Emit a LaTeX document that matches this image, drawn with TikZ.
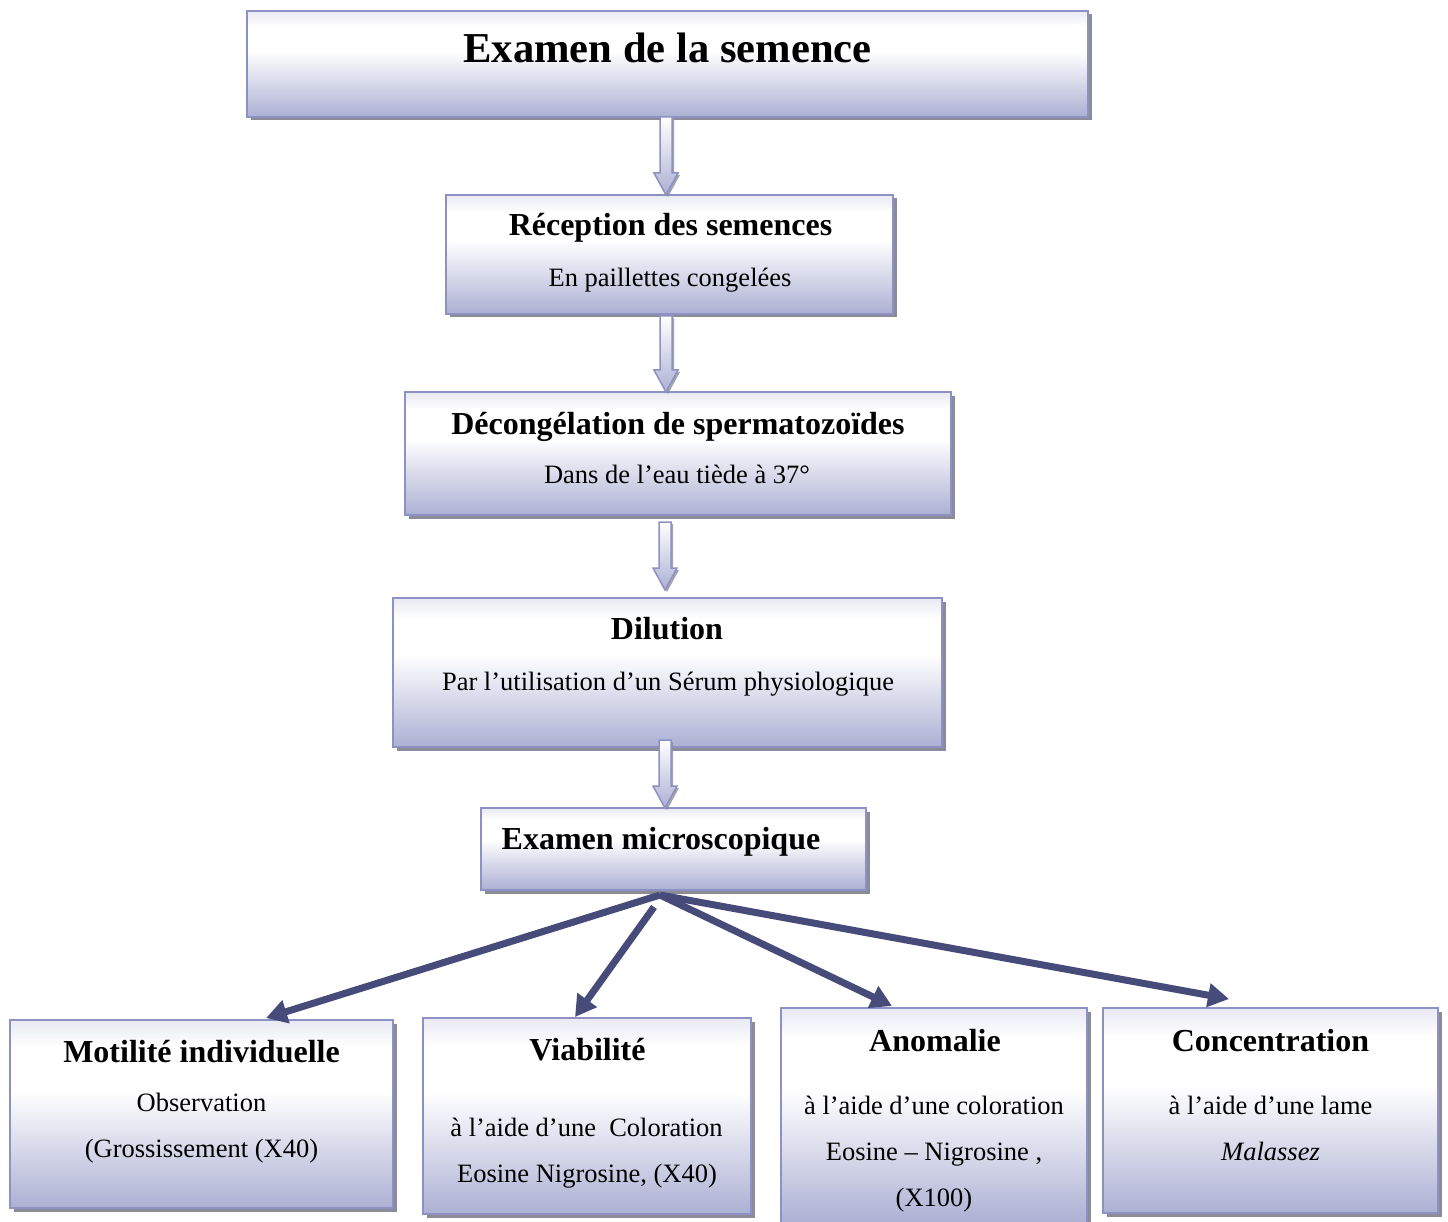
\documentclass[tikz,border=0pt]{standalone}
\usepackage{fontspec}
\setmainfont{Liberation Serif}
\usetikzlibrary{arrows.meta,shadows,calc}
\definecolor{lav}{RGB}{172,176,211}
\definecolor{lavtop}{RGB}{232,233,243}
\definecolor{lavborder}{RGB}{141,145,196}
\definecolor{darkarrow}{RGB}{70,75,122}
\definecolor{shadowgray}{RGB}{140,140,152}
\pgfdeclareverticalshading{boxshade}{100bp}{color(0bp)=(lav); color(25bp)=(lav); color(56bp)=(white); color(68bp)=(white); color(75bp)=(lavtop); color(100bp)=(lavtop)}
\newcommand\hollowarrow[2]{%
  \path[harrowstyle] ($(#1)+(-6,0)$) -- ($(#2)+(-6,-22)$) -- ($(#2)+(-12,-22)$) -- (#2)
    -- ($(#2)+(12,-22)$) -- ($(#2)+(6,-22)$) -- ($(#1)+(6,0)$) -- cycle;}
\begin{document}
\begin{tikzpicture}[x=1pt,y=-1pt,
  box/.style={draw=lavborder, line width=2pt, shading=boxshade, inner sep=0pt,
    drop shadow={shadow xshift=3.5pt, shadow yshift=-3.5pt, fill=shadowgray, opacity=1}},
  heading/.style={font=\fontsize{42.6}{50}\bfseries\selectfont, anchor=base, inner sep=0pt},
  ttl/.style={font=\fontsize{32}{38}\bfseries\selectfont, anchor=base, inner sep=0pt},
  body/.style={font=\fontsize{26.5}{32}\selectfont, anchor=base, inner sep=0pt},
  harrowstyle/.style={draw=lavborder, line width=1.5pt, top color=white, bottom color=lav,
    drop shadow={shadow xshift=2pt, shadow yshift=-2pt, fill=shadowgray, opacity=0.8}},
  darr/.style={draw=darkarrow, line width=7pt, -{Triangle[length=21pt,width=23pt]}}
]
\useasboundingbox (0,0) rectangle (1448,1222);

% main column boxes
\node[box, minimum width=841pt, minimum height=106pt] (box1) at (667.5,64) {};
\node[box, minimum width=447pt, minimum height=119pt] (box2) at (669.5,254.5) {};
\node[box, minimum width=546pt, minimum height=123pt] (box3) at (678,453.5) {};
\node[box, minimum width=549pt, minimum height=149pt] (box4) at (667.5,672.5) {};
\node[box, minimum width=385pt, minimum height=82pt] (box5) at (673.5,849) {};

% bottom boxes
\node[box, minimum width=383pt, minimum height=188pt] (b1) at (201.5,1114) {};
\node[box, minimum width=328pt, minimum height=196pt] (b2) at (587,1116) {};
\node[box, minimum width=306pt, minimum height=216pt] (b3) at (934,1116) {};
\node[box, minimum width=335pt, minimum height=205pt] (b4) at (1270.5,1110.5) {};

% texts
\node[heading] (t1) at (667.5,63) {Examen de la semence};
\node[ttl] (t2) at (670.5,236) {Réception des semences};
\node[body] (t2b) at (670,287) {En paillettes congelées};
\node[ttl] (t3) at (678,434) {Décongélation de spermatozoïdes};
\node[body] (t3b) at (677,483) {Dans de l’eau tiède à 37°};
\node[ttl] (t4) at (667,639) {Dilution};
\node[body] (t4b) at (668,690) {Par l’utilisation d’un Sérum physiologique};
\node[ttl] (t5) at (661,849) {Examen microscopique};

\node[ttl] (u1) at (201.5,1062) {Motilité individuelle};
\node[body] (u1a) at (201.5,1111) {Observation};
\node[body] (u1b) at (201.5,1157) {(Grossissement (X40)};

\node[ttl] (u2) at (587.5,1060) {Viabilité};
\node[body] (u2a) at (586.5,1136) {à l’aide d’une\ \ Coloration};
\node[body] (u2b) at (587,1182) {Eosine Nigrosine, (X40)};

\node[ttl] (u3) at (935,1051) {Anomalie};
\node[body] (u3a) at (934,1114) {à l’aide d’une coloration};
\node[body] (u3b) at (934,1160) {Eosine – Nigrosine ,};
\node[body] (u3c) at (934,1206) {(X100)};

\node[ttl] (u4) at (1270.5,1051) {Concentration};
\node[body] (u4a) at (1270.5,1114) {à l’aide d’une lame};
\node[body] (u4b) at (1270.5,1160) {\itshape Malassez};

% hollow arrows
\coordinate (h1a) at (666,117); \coordinate (h1b) at (666,195);
\coordinate (h2a) at (666,316); \coordinate (h2b) at (666,392);
\coordinate (h3a) at (665,522); \coordinate (h3b) at (665,590);
\coordinate (h4a) at (665,740); \coordinate (h4b) at (665,808);
\hollowarrow{h1a}{h1b}
\hollowarrow{h2a}{h2b}
\hollowarrow{h3a}{h3b}
\hollowarrow{h4a}{h4b}

% dark arrows
\coordinate (src) at (660,895);
\coordinate (src2) at (654,907);
\coordinate (e1) at (266,1018);
\coordinate (e2) at (575,1017);
\coordinate (e3) at (892,1006);
\coordinate (e4) at (1229,999);
\draw[darr] (src) -- (e1);
\draw[darr] (src2) -- (e2);
\draw[darr] (src) -- (e3);
\draw[darr] (src) -- (e4);
\end{tikzpicture}
\end{document}
